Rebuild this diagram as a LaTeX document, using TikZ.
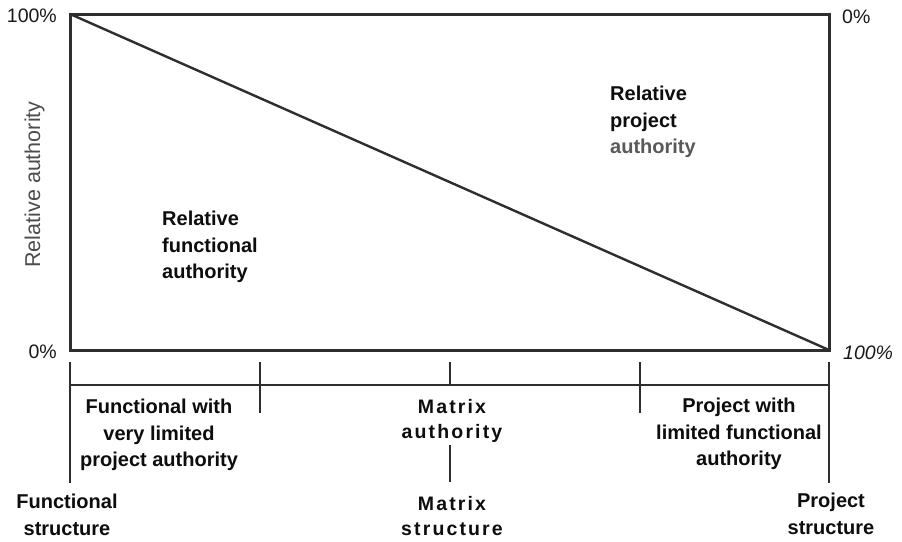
\documentclass[tikz,border=0pt]{standalone}
\usepackage{fontspec}
\setmainfont{Liberation Sans}
\begin{document}
\begin{tikzpicture}[x=1pt,y=-1pt,
  frame/.style={draw=black!82,line width=3pt,line join=miter},
  diag/.style={draw=black!82,line width=2.4pt},
  scaleline/.style={draw=black!82,line width=2.2pt},
  pct/.style={inner sep=0pt,font=\fontsize{19.5}{24}\selectfont,text=black!90},
  lbl/.style={inner sep=0pt,font=\fontsize{20}{26.5}\selectfont\bfseries,text=black!95},
  spaced/.style={inner sep=0pt,font=\fontsize{19.5}{25.5}\selectfont\bfseries\addfontfeature{LetterSpace=11},text=black!95}]
\useasboundingbox (0,0) rectangle (902,541);
\fill[white] (0,0) rectangle (902,541);

% authority chart
\coordinate (tl) at (70,14);
\coordinate (tr) at (829,14);
\coordinate (br) at (829,350);
\coordinate (bl) at (70,350);
\draw[frame] (tl) -- (tr) -- (br) -- (bl) -- cycle;
\draw[diag] (tl) -- (br);

% percentage marks
\node[pct,anchor=base east] (p100a) at (57,22) {100\%};
\node[pct,anchor=base west] (p0a) at (842,23) {0\%};
\node[pct,anchor=base east] (p0b) at (57,358) {0\%};
\node[pct,anchor=base west,font=\fontsize{19.5}{24}\selectfont\itshape] (p100b) at (843,359) {100\%};

% axis title
\node[pct,rotate=90,anchor=base,text=black!70,font=\fontsize{21.5}{24}\selectfont] (axis) at (40,184.5) {Relative authority};

% region labels
\node[lbl,anchor=north west,align=left] (func) at (162,211) {Relative\\functional\\authority};
\node[lbl,anchor=north west,align=left] (proj) at (610,86) {Relative\\project\\{\color{black!65}authority}};

% spectrum scale
\coordinate (s0) at (70,385);
\coordinate (s4) at (829,385);
\draw[scaleline] (s0) -- (s4);
\draw[scaleline] (70,362) -- (70,483);
\draw[scaleline] (829,362) -- (829,483);
\draw[scaleline] (260,362) -- (260,413);
\draw[scaleline] (640,362) -- (640,413);
\draw[scaleline] (450,362) -- (450,385);

% scale labels
\node[lbl,anchor=north,align=center] (fw) at (159,399) {Functional with\\very limited\\project authority};
\node[spaced,anchor=north,align=center] (ma) at (452,399) {Matrix\\authority};
\node[lbl,anchor=north,align=center] (pw) at (739,398) {Project with\\limited functional\\authority};
\node[spaced,anchor=north,align=center] (ms) at (452,496) {Matrix\\structure};
\node[lbl,anchor=north,align=center] (fs) at (67,494) {Functional\\structure};
\node[lbl,anchor=north,align=center] (ps) at (831,493) {Project\\structure};
\draw[scaleline] (450,445) -- (450,482);
\end{tikzpicture}
\end{document}
